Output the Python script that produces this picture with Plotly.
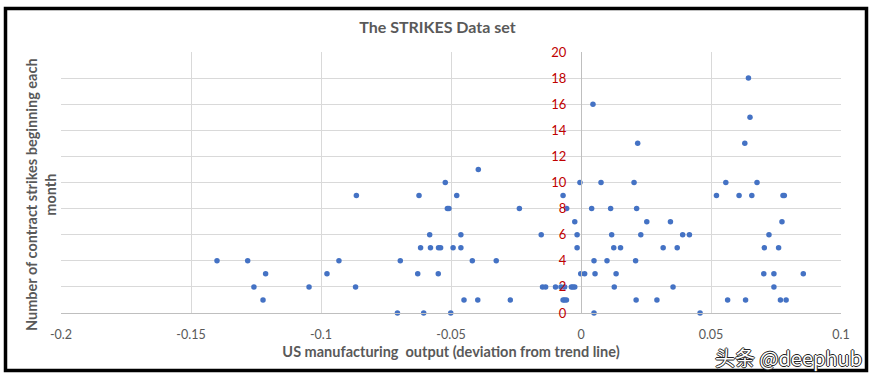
import plotly.graph_objects as go

# Data (x: deviation from trend, y: number of strikes)
y0_x = [-0.0706, -0.0605, -0.0501, 0.0050, 0.0458]
y1_x = [-0.1223, -0.0450, -0.0397, -0.0272, -0.0069, -0.0063, -0.0056, 0.0212, 0.0292, 0.0564, 0.0633, 0.0767, 0.0789]
y2_x = [-0.1258, -0.1046, -0.0867, -0.0148, -0.0136, -0.0098, -0.0077, -0.0063, -0.0037, -0.0031, -0.0024, 0.0128, 0.0354, 0.0742]
y3_x = [-0.1213, -0.0977, -0.0628, -0.0549, -0.0001, 0.0014, 0.0054, 0.0135, 0.0703, 0.0742, 0.0855]
y4_x = [-0.1400, -0.1282, -0.0931, -0.0695, -0.0418, -0.0326, 0.0050, 0.0100, 0.0210]
y5_x = [-0.0617, -0.0579, -0.0548, -0.0540, -0.0492, -0.0462, -0.0015, 0.0126, 0.0152, 0.0316, 0.0370, 0.0705, 0.0760]
y6_x = [-0.0582, -0.0462, -0.0153, -0.0015, 0.0118, 0.0230, 0.0391, 0.0417, 0.0723]
y7_x = [-0.0024, 0.0253, 0.0344, 0.0773]
y8_x = [-0.0514, -0.0508, -0.0237, -0.0055, 0.0041, 0.0114, 0.0214]
y9_x = [-0.0864, -0.0623, -0.0478, -0.0069, 0.0521, 0.0608, 0.0657, 0.0777, 0.0782]
y10_x = [-0.0522, -0.0004, 0.0077, 0.0204, 0.0557, 0.0677]
y11_x = [-0.0395]
y13_x = [0.0218, 0.0630]
y15_x = [0.0650]
y16_x = [0.0046]
y18_x = [0.0644]

groups = {0: y0_x, 1: y1_x, 2: y2_x, 3: y3_x, 4: y4_x, 5: y5_x, 6: y6_x, 7: y7_x,
          8: y8_x, 9: y9_x, 10: y10_x, 11: y11_x, 13: y13_x, 15: y15_x, 16: y16_x, 18: y18_x}

x_vals = []
y_vals = []
for yv, xs in groups.items():
    for xv in xs:
        x_vals.append(xv)
        y_vals.append(yv)

x_tickvals = [-0.2, -0.15, -0.1, -0.05, 0, 0.05, 0.1]
x_ticktext = ["-0.2", "-0.15", "-0.1", "-0.05", "0", "0.05", "0.1"]
y_tickvals = [0, 2, 4, 6, 8, 10, 12, 14, 16, 18, 20]

W, H = 875, 379
ML, MR, MT, MB = 61, 34, 52, 66
PW, PH = W - ML - MR, H - MT - MB

def px_x(px):
    return (px - ML) / PW

def px_y(py):
    return (H - MB - py) / PH

fig = go.Figure()
fig.add_trace(go.Scatter(
    x=x_vals, y=y_vals, mode="markers",
    marker=dict(color="#4472C4", size=5.5),
    cliponaxis=False, showlegend=False,
))

grey = "#595959"
fig.update_layout(
    width=W, height=H,
    margin=dict(l=ML, r=MR, t=MT, b=MB, autoexpand=False),
    paper_bgcolor="white", plot_bgcolor="white",
    font=dict(family="Lato", color=grey),
    title=dict(text="<b>The STRIKES Data set</b>", x=0.5, xanchor="center",
               y=1 - 27 / H, yanchor="middle", font=dict(size=16, color=grey)),
    xaxis=dict(range=[-0.2, 0.1], tickvals=x_tickvals, ticktext=x_ticktext,
               showgrid=True, gridcolor="#d9d9d9", gridwidth=1,
               zeroline=False, showline=True, linecolor="#bfbfbf", linewidth=1,
               ticks="", ticklabelstandoff=10, tickfont=dict(size=12.5, color=grey),
               title=dict(text="<b>US manufacturing  output (deviation from trend line)</b>",
                          font=dict(size=14.5, color=grey), standoff=5),
               automargin=False),
    yaxis=dict(range=[0, 20], tickvals=y_tickvals, anchor="free", position=0.2 / 0.3,
               showgrid=True, gridcolor="#d9d9d9", gridwidth=1,
               zeroline=False, showline=True, linecolor="#bfbfbf", linewidth=1,
               ticks="", ticklabelstandoff=12,
               tickfont=dict(size=13, color="#C00000"), automargin=False),
)

fig.add_annotation(
    text="<b>Number of contract strikes beginning each<br>month</b>",
    xref="paper", yref="paper", x=px_x(41), y=px_y(195),
    xanchor="center", yanchor="middle", textangle=-90, showarrow=False,
    font=dict(size=14.5, color=grey),
)

fig.add_annotation(
    text="头条 @deephub",
    xref="paper", yref="paper", x=px_x(864), y=px_y(357),
    xanchor="right", yanchor="middle", showarrow=False,
    font=dict(family="Noto Sans CJK SC", size=20, color="white",
              shadow="1px 0 0 #222, -1px 0 0 #222, 0 1px 0 #222, 0 -1px 0 #222"),
)

fig.add_shape(type="rect", xref="paper", yref="paper",
              x0=px_x(5.5), x1=px_x(866.5), y0=px_y(370.5), y1=px_y(8.5),
              line=dict(color="black", width=3.5), fillcolor="rgba(0,0,0,0)", layer="above")

fig.write_html("out.html", config={"displayModeBar": False},
               post_script="document.body.style.margin='0px';")
